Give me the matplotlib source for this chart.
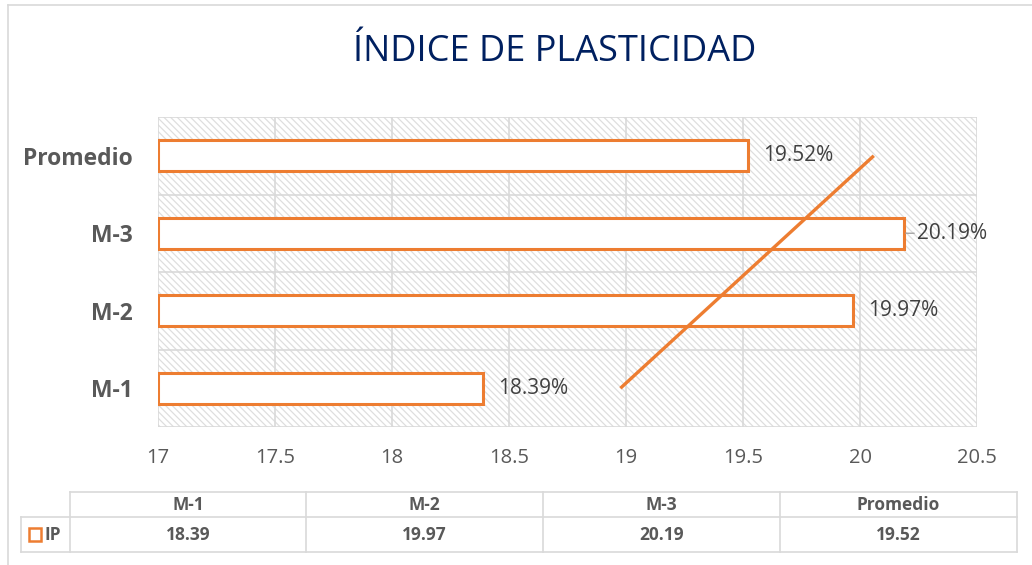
import numpy as np
import matplotlib
matplotlib.use('Agg')
import matplotlib.pyplot as plt
from matplotlib.patches import Rectangle
from matplotlib.lines import Line2D

# datos
categorias = ['M-1', 'M-2', 'M-3', 'Promedio']
ip = [18.39, 19.97, 20.19, 19.52]
etiquetas = ['18.39%', '19.97%', '20.19%', '19.52%']
tabla_valores = ['18.39', '19.97', '20.19', '19.52']
xticks = [17, 17.5, 18, 18.5, 19, 19.5, 20, 20.5]
titulo = 'ÍNDICE DE PLASTICIDAD'
serie = 'IP'

naranja = '#ED7D31'
gris_txt = '#595959'
gris_lin = '#d9d9d9'

plt.rcParams['font.family'] = ['Open Sans', 'DejaVu Sans']
plt.rcParams['hatch.linewidth'] = 0.9

W, H = 1032, 565
fig = plt.figure(figsize=(W / 100, H / 100), dpi=100)

def fx(px): return px / W
def fy(py): return 1 - py / H

# borde del grafico
fig.add_artist(Line2D([fx(8), fx(8)], [fy(5), 0], color=gris_lin, lw=1.2))
fig.add_artist(Line2D([fx(8), 1], [fy(5), fy(5)], color=gris_lin, lw=1.2))

ax = fig.add_axes([fx(158), fy(427), fx(977) - fx(158), fy(117) - fy(427)])
x0, x1 = xticks[0], xticks[-1]
ax.set_xlim(x0, x1)
ax.set_ylim(0.5, len(categorias) + 0.5)

# fondo rayado
ax.add_patch(Rectangle((0, 0), 1, 1, transform=ax.transAxes, facecolor='white',
                       edgecolor='#dedede', linewidth=0, hatch='\\\\\\\\\\', zorder=0))

pos = np.arange(1, len(categorias) + 1)
for v in xticks:
    ax.axvline(v, color=gris_lin, lw=1.2, zorder=1)
for b in np.arange(0.5, len(categorias) + 1, 1):
    ax.axhline(b, color=gris_lin, lw=1.2, zorder=1)

vals = np.array(ip)
ax.barh(pos, vals - x0, left=x0, height=0.4, facecolor='white',
        edgecolor=naranja, linewidth=2.2, zorder=3)

# linea de tendencia (lineal)
m, c = np.polyfit(pos, vals, 1)
ax.plot(m * pos[[0, -1]] + c, pos[[0, -1]], color=naranja, lw=2.4, zorder=4,
        solid_capstyle='butt')

for p, v, t in zip(pos, vals, etiquetas):
    if v == vals.max():
        ax.annotate(t, (v, p), xytext=(9, 0), textcoords='offset points',
                    va='center', ha='left', fontsize=15, color='#404040', zorder=5,
                    arrowprops=dict(arrowstyle='-', color='#a6a6a6', lw=1,
                                    shrinkA=0, shrinkB=1))
    else:
        ax.annotate(t, (v, p), xytext=(11, 0), textcoords='offset points',
                    va='center', ha='left', fontsize=15, color='#404040', zorder=5)

ax.set_yticks(pos)
ax.set_yticklabels(categorias, fontsize=16.5, fontweight='bold', color=gris_txt)
ax.set_xticks(xticks)
ax.set_xticklabels([f'{v:g}' for v in xticks], fontsize=14.5, color=gris_txt)
ax.tick_params(axis='both', length=0)
ax.tick_params(axis='y', pad=18)
ax.tick_params(axis='x', pad=15)
for s in ax.spines.values():
    s.set_visible(False)

fig.text(fx(555), fy(52), titulo, ha='center', va='center', fontsize=26,
         color='#002060')

# tabla de datos
col_x = [70, 306, 543, 780, 1017]
r_top, r_mid, r_bot = 492, 517, 552
lw_t = 1.2
fig.add_artist(Line2D([fx(col_x[0]), fx(col_x[-1])], [fy(r_top)] * 2, color=gris_lin, lw=lw_t))
fig.add_artist(Line2D([fx(21), fx(col_x[-1])], [fy(r_mid)] * 2, color=gris_lin, lw=lw_t))
fig.add_artist(Line2D([fx(21), fx(col_x[-1])], [fy(r_bot)] * 2, color=gris_lin, lw=lw_t))
fig.add_artist(Line2D([fx(21), fx(21)], [fy(r_mid), fy(r_bot)], color=gris_lin, lw=lw_t))
for xc in col_x:
    fig.add_artist(Line2D([fx(xc), fx(xc)], [fy(r_top), fy(r_bot)], color=gris_lin, lw=lw_t))
for k in range(len(categorias)):
    xm = (col_x[k] + col_x[k + 1]) / 2
    fig.text(fx(xm), fy((r_top + r_mid) / 2), categorias[k], ha='center', va='center',
             fontsize=12.5, fontweight='bold', color=gris_txt)
    fig.text(fx(xm), fy((r_mid + r_bot) / 2), tabla_valores[k], ha='center', va='center',
             fontsize=12.5, fontweight='bold', color=gris_txt)
fig.add_artist(Rectangle((fx(29), fy(541)), fx(12), fy(528) - fy(541), transform=fig.transFigure,
                         facecolor='white', edgecolor=naranja, lw=1.8))
fig.text(fx(45), fy((r_mid + r_bot) / 2), serie, ha='left', va='center',
         fontsize=12.5, fontweight='bold', color=gris_txt)

fig.savefig('out.png', dpi=100)
